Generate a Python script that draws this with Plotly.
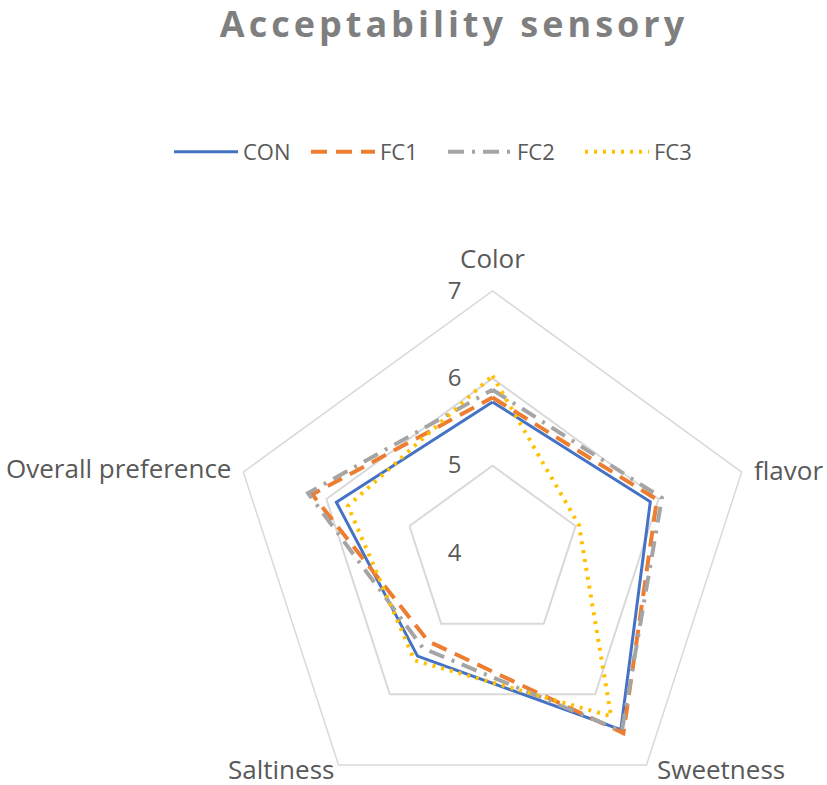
import plotly.graph_objects as go

categories = ["Color", "flavor", "Sweetness", "Saltiness", "Overall preference"]
series_names = ["CON", "FC1", "FC2", "FC3"]
con_values = [5.73, 5.90, 6.50, 5.46, 5.88]
fc1_values = [5.78, 5.98, 6.55, 5.25, 6.17]
fc2_values = [5.87, 6.04, 6.52, 5.35, 6.22]
fc3_values = [6.03, 5.04, 6.31, 5.52, 5.74]
radial_ticks = [4, 5, 6, 7]

all_values = [con_values, fc1_values, fc2_values, fc3_values]
colors = ["#4472C4", "#ED7D31", "#A5A5A5", "#FFC000"]
dashes = ["solid", "16px,9px", "16px,8px,3px,8px", "3px,6px"]
widths = [3, 4, 4, 4]

W, H = 827, 830
PH = 815  # plot-area height (H - bottom margin)
fig = go.Figure()
for name, vals, c, d, w in zip(series_names, all_values, colors, dashes, widths):
    fig.add_trace(go.Scatterpolar(
        r=vals + vals[:1], theta=categories + categories[:1],
        mode="lines", name=name,
        line=dict(color=c, dash=d, width=w),
    ))

FONT = "Open Sans"

# category labels placed as in the reference (Excel places them at the vertices)
label_pos = [  # (x px, y px, xanchor)
    (492, 258, "center"),
    (752, 470, "left"),
    (655, 769, "left"),
    (336, 769, "right"),
    (233, 468, "right"),
]
annotations = []
for cat, (px, py, xa) in zip(categories, label_pos):
    annotations.append(dict(
        text=cat, x=px / W, y=1 - py / PH, xref="paper", yref="paper",
        xanchor=xa, yanchor="middle", showarrow=False,
        font=dict(family=FONT, size=26, color="#595959"),
    ))

fig.update_layout(
    width=W, height=H,
    margin=dict(l=0, r=0, t=0, b=H - PH),
    paper_bgcolor="white",
    font=dict(family=FONT, color="#595959", size=22),
    title=dict(
        text='<span style="letter-spacing:4px">Acceptability sensory</span>',
        font=dict(family=FONT, size=36, color="#7F7F7F", weight="bold"),
        x=454 / W, xanchor="center", xref="container",
        y=1 - 24 / H, yanchor="middle", yref="container",
    ),
    showlegend=True,
    legend=dict(
        orientation="h", x=169 / W, xanchor="left",
        y=1 - 152 / PH, yanchor="middle",
        font=dict(family=FONT, size=22, color="#595959"),
        itemwidth=64, entrywidth=58, entrywidthmode="pixels",
        bgcolor="rgba(0,0,0,0)",
    ),
    annotations=annotations,
    polar=dict(
        domain=dict(x=[230.5 / W, 754.5 / W], y=[0, (PH - 291) / PH]),
        bgcolor="white",
        gridshape="linear",
        radialaxis=dict(
            range=[4, 7], tickvals=radial_ticks, angle=90, tickangle=90,
            side="counterclockwise",
            showline=False, ticks="outside", ticklen=22, tickcolor="rgba(0,0,0,0)",
            gridcolor="#D9D9D9", gridwidth=1.5,
            tickfont=dict(size=24, color="#595959", family=FONT),
        ),
        angularaxis=dict(
            rotation=90, direction="clockwise",
            showgrid=False, showline=True, linecolor="#D9D9D9", linewidth=1.5,
            ticks="", showticklabels=False,
        ),
    ),
)

fig.write_html("out.html", post_script="document.body.style.overflow='hidden';document.body.style.margin='0';")
